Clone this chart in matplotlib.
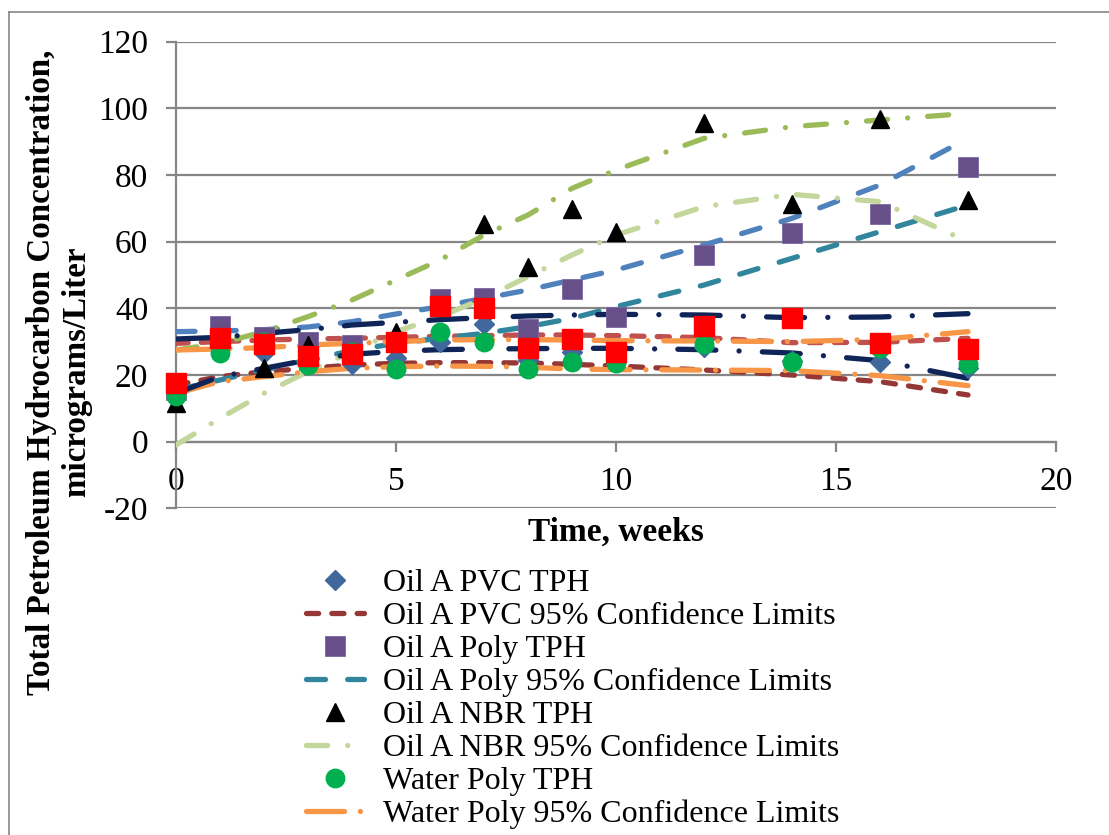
import matplotlib
matplotlib.use("Agg")
import matplotlib.pyplot as plt
from matplotlib.lines import Line2D

plt.rcParams['font.family'] = ['Liberation Serif', 'DejaVu Serif']
plt.rcParams['axes.unicode_minus'] = False

weeks = [0, 1, 2, 3, 4, 5, 6, 7, 8, 9, 10, 12, 14, 16, 18]

# measured TPH values
pvc_tph = [16, 31, 26.5, 27, 23.3, 25, 30, 35.3, 24.5, 27, 24, 28.4, 24.2, 23.9, 22]
poly_tph = [15.5, 34.7, 31.4, 30, 29, 30, 42.8, 43.1, 33.8, 45.8, 37.4, 56, 62.7, 68.4, 82.5]
nbr_tph = [11.5, 31.4, 22, 29, 27, 33, 40.7, 65.3, 52.5, 69.8, 63, 95.7, 71.4, 96.9, 72.5]
water_poly_tph = [13.7, 26.6, 30, 23, 27, 21.8, 33, 30, 21.8, 23.9, 23.6, 29.3, 24, 28, 23.3]
water_pvc_tph = [17.6, 31, 29.3, 25.7, 26.3, 29.9, 40.7, 40, 28, 30.8, 26.8, 34.7, 37.1, 29.6, 27.8]

# 95% confidence limits (upper / lower)
pvc_upper = [29.5, 30, 30.5, 30.8, 31, 31.3, 31.6, 31.8, 32, 32, 31.8, 31.2, 29.7, 29.8, 31]
pvc_lower = [17, 19.5, 21, 22, 23, 23.5, 23.7, 23.7, 23.6, 23.2, 22.7, 21.5, 20, 18, 14]
poly_upper = [33, 33.2, 33.6, 34.4, 36, 38.3, 40.5, 43, 45.5, 48.5, 51.5, 59, 67, 77, 91]
poly_lower = [15.5, 18.5, 21.5, 24.5, 27.3, 29.5, 31, 32.5, 34.5, 37, 40.5, 47, 55, 63, 71]
nbr_upper = [27.5, 29.5, 33, 37.5, 42.5, 48.5, 54.5, 62, 68, 76, 81.5, 91, 94.5, 96.5, 98.5]
nbr_lower = [-1, 7, 14.5, 21, 27, 33, 37.5, 43, 49.5, 56, 62, 70.5, 74.2, 72, 60]
water_upper = [27.5, 27.8, 28.2, 29, 29.5, 30, 30.5, 30.6, 30.6, 30.5, 30.3, 30.2, 30, 30.7, 33]
water_lower = [14.5, 18, 19.5, 21, 22, 22.5, 22.7, 22.6, 22.3, 21.8, 21.6, 21.5, 21.3, 19.8, 16.8]
wpvc_upper = [30.8, 31.3, 32.5, 33.6, 35, 35.8, 36.6, 37.2, 37.7, 38, 38.2, 38, 37.2, 37.4, 38.4]
wpvc_lower = [14.5, 19.5, 22, 24.5, 26.2, 27.1, 27.6, 27.8, 27.9, 28, 28, 27.6, 26.6, 24.3, 19]

labels = ['Oil A PVC TPH', 'Oil A PVC 95% Confidence Limits',
          'Oil A Poly TPH', 'Oil A Poly 95% Confidence Limits',
          'Oil A NBR TPH', 'Oil A NBR 95% Confidence Limits',
          'Water Poly TPH', 'Water Poly 95% Confidence Limits']

W, H = 1109, 835
fig = plt.figure(figsize=(W / 100, H / 100), dpi=100)
ax = fig.add_axes([176 / W, 1 - 508.3 / H, 880 / W, 466.6 / H])

grid_col = '#868686'
lw = 3.8
dash = (2.3, 2.5)
longdash = (3.6, 4.2)
dashdot = (4.0, 3.8, 0.01, 3.8)
longdashdot = (7.2, 4.4, 0.01, 4.4)
wdashdot = (7.2, 3.0, 0.01, 3.0)

def limit(y, color, pattern, label=None):
    line, = ax.plot(weeks, y, color=color, lw=lw, dashes=pattern,
                    dash_capstyle='round', solid_capstyle='round', zorder=3,
                    label=label)
    return line

limit(pvc_upper, '#C0504D', dash)
h_pvc_lim = limit(pvc_lower, '#953735', dash)
limit(poly_upper, '#4F81BD', longdash)
h_poly_lim = limit(poly_lower, '#31859C', longdash)
limit(nbr_upper, '#9BBB59', dashdot)
h_nbr_lim = limit(nbr_lower, '#C3D69B', dashdot)
limit(water_upper, '#F79646', wdashdot)
h_water_lim = limit(water_lower, '#F79646', wdashdot)
limit(wpvc_upper, '#0F2557', longdashdot)
limit(wpvc_lower, '#0F2557', longdashdot)

mk = dict(linestyle='none', zorder=4, clip_on=False)
h_pvc, = ax.plot(weeks, pvc_tph, marker='D', ms=10.5, color='#41689C', mec='#41689C', **mk)
h_poly, = ax.plot(weeks, poly_tph, marker='s', ms=13.8, color='#674F8A', mec='#7A66A0', mew=0.6, **mk)
h_nbr, = ax.plot(weeks, nbr_tph, marker='^', ms=13, color='black', **mk)
h_wpoly, = ax.plot(weeks, water_poly_tph, marker='o', ms=13.3, color='#00B050', mec='#00B050', **mk)
ax.plot(weeks, water_pvc_tph, marker='s', ms=13.8, color='#FF0000', mec='#FF0000', **mk)

ax.set_xlim(0, 20)
ax.set_ylim(-20, 120)
ax.set_xticks([0, 5, 10, 15, 20])
ax.set_yticks(range(-20, 121, 20))
ax.yaxis.grid(True, color=grid_col, lw=1.6)
ax.set_axisbelow(True)
for s in ['top', 'right']:
    ax.spines[s].set_visible(False)
ax.spines['bottom'].set_position(('data', 0))
ax.spines['bottom'].set_color(grid_col)
ax.spines['left'].set_color(grid_col)
ax.spines['bottom'].set_linewidth(1.6)
ax.spines['left'].set_linewidth(1.6)
ax.tick_params(axis='both', colors=grid_col, width=1.6, length=7, labelcolor='black', labelsize=24)
ax.tick_params(axis='y', pad=13)
ax.tick_params(axis='x', pad=11)

fig.text(616 / W, 1 - 532 / H, 'Time, weeks', ha='center', va='center',
         fontsize=24, fontweight='bold')
fig.text(59 / W, 1 - 372 / H, 'Total Petroleum Hydrocarbon Concentration,\nmicrograms/Liter',
         ha='center', va='center', rotation=90, fontsize=23.8, fontweight='bold',
         multialignment='center', linespacing=1.15)

handles = [h_pvc, h_pvc_lim, h_poly, h_poly_lim, h_nbr, h_nbr_lim, h_wpoly, h_water_lim]
fig.legend(handles, labels, loc='upper left', bbox_to_anchor=(306 / W, 1 - 569 / H),
           frameon=False, prop={'size': 23}, borderpad=0, borderaxespad=0,
           handlelength=1.8, handletextpad=0.6, labelspacing=0.11, numpoints=1)

# chart area border (left and top visible in the crop)
fig.add_artist(Line2D([9 / W, 9 / W], [0, 1 - 12 / H], color=grid_col, lw=1.2))
fig.add_artist(Line2D([9 / W, 1], [1 - 12 / H, 1 - 12 / H], color=grid_col, lw=1.2))

fig.savefig('out.png', dpi=100)
